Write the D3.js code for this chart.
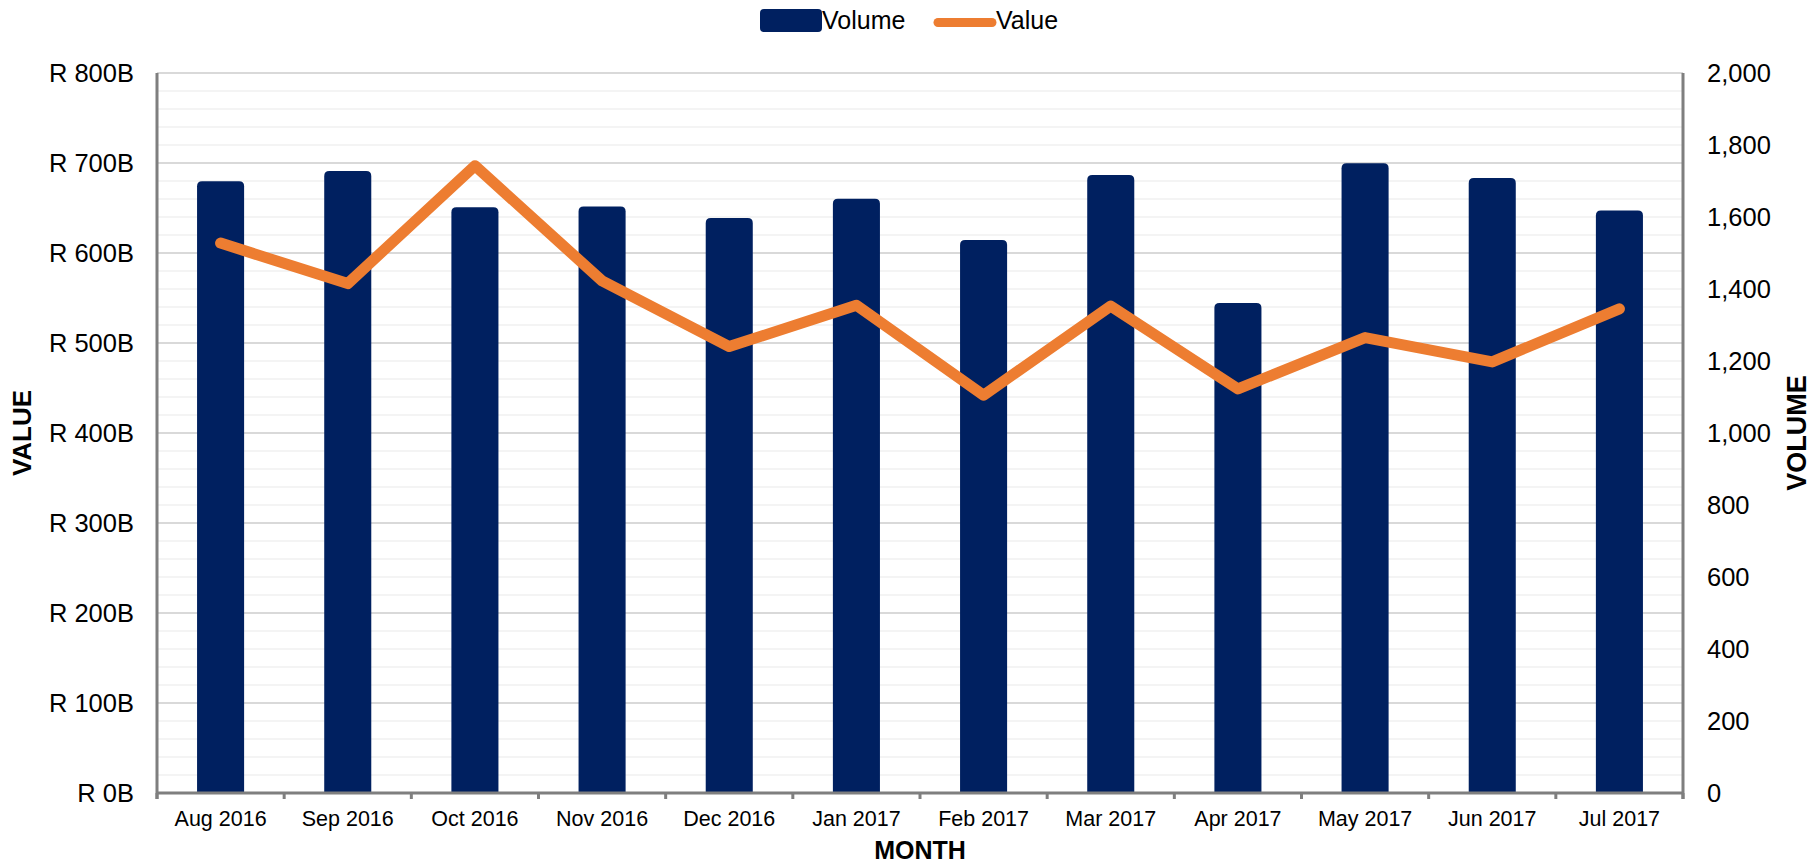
<!DOCTYPE html>
<html>
<head>
<meta charset="utf-8">
<script src="https://cdn.jsdelivr.net/npm/d3@7"></script>
<style>
  body { margin: 0; background: #fff; }
  svg text { font-family: "Liberation Sans", Arial, sans-serif; fill: #000; }
</style>
</head>
<body>
<div class="chart"></div>
<script>
const months = ["Aug 2016", "Sep 2016", "Oct 2016", "Nov 2016", "Dec 2016", "Jan 2017",
  "Feb 2017", "Mar 2017", "Apr 2017", "May 2017", "Jun 2017", "Jul 2017"];
// bars, right axis
const volume = [1699, 1728, 1627, 1629, 1597, 1651, 1536, 1717, 1361, 1749, 1708, 1618];
// line, left axis, billions of rand
const value = [611, 566, 697, 569, 496, 542, 442, 541, 449, 506, 479, 538];
const valueTicks = [0, 100, 200, 300, 400, 500, 600, 700, 800];
const volumeTicks = [0, 200, 400, 600, 800, 1000, 1200, 1400, 1600, 1800, 2000];

const renderChart = (containerId) => {
    const svgWidth = 1813, svgHeight = 866;
    const margin = { top: 73, right: 130, bottom: 73, left: 157 };
    const width = svgWidth - margin.left - margin.right;
    const height = svgHeight - margin.top - margin.bottom;

    const svg = d3.select(`.${containerId}`)
      .append("svg")
      .attr("width", svgWidth)
      .attr("height", svgHeight);
    const g = svg.append("g")
      .attr("transform", `translate(${margin.left},${margin.top})`);

    const x = d3.scaleBand().domain(months).range([0, width]).padding(0);
    const yL = d3.scaleLinear().domain([0, 800]).range([height, 0]);
    const yR = d3.scaleLinear().domain([0, 2000]).range([height, 0]);

    // gridlines: minor every 20B, major every 100B
    g.selectAll(".minor")
      .data(d3.range(0, 801, 20).filter(v => v % 100 !== 0))
      .enter().append("line")
      .attr("x1", 0).attr("x2", width)
      .attr("y1", d => yL(d)).attr("y2", d => yL(d))
      .attr("stroke", "#f0f0f0").attr("stroke-width", 1.5);
    g.selectAll(".major")
      .data(valueTicks.slice(1))
      .enter().append("line")
      .attr("x1", 0).attr("x2", width)
      .attr("y1", d => yL(d)).attr("y2", d => yL(d))
      .attr("stroke", "#d9d9d9").attr("stroke-width", 2);

    // bars with rounded tops
    const bw = x.bandwidth() * 0.37, r = 5;
    g.selectAll(".bar")
      .data(months)
      .enter().append("path")
      .attr("class", "bar")
      .attr("fill", "#002060")
      .attr("d", (m, i) => {
        const x0 = x(m) + (x.bandwidth() - bw) / 2, x1 = x0 + bw;
        const y0 = yR(volume[i]), yb = yR(0);
        return `M${x0},${yb}V${y0 + r}Q${x0},${y0} ${x0 + r},${y0}H${x1 - r}Q${x1},${y0} ${x1},${y0 + r}V${yb}Z`;
      });

    // value line
    const line = d3.line()
      .x((d, i) => x(months[i]) + x.bandwidth() / 2)
      .y(d => yL(d));
    g.append("path")
      .datum(value)
      .attr("d", line)
      .attr("fill", "none")
      .attr("stroke", "#ED7D31")
      .attr("stroke-width", 11)
      .attr("stroke-linejoin", "round")
      .attr("stroke-linecap", "round");

    // axes
    const axisColor = "#7f7f7f";
    const styleAxis = (sel) => {
      sel.select(".domain").remove();
      sel.selectAll(".tick line").remove();
      sel.selectAll("text").attr("fill", "#000");
    };

    g.append("g")
      .call(d3.axisLeft(yL).tickValues(valueTicks).tickFormat(d => `R ${d}B`).tickSize(0).tickPadding(23))
      .call(styleAxis)
      .selectAll("text").style("font-size", "25.5px");

    g.append("g")
      .attr("transform", `translate(${width},0)`)
      .call(d3.axisRight(yR).tickValues(volumeTicks).tickFormat(d3.format(",")).tickSize(0).tickPadding(24))
      .call(styleAxis)
      .selectAll("text").style("font-size", "25.5px");

    g.append("g")
      .attr("transform", `translate(0,${height})`)
      .call(d3.axisBottom(x).tickSize(0).tickPadding(18))
      .call(styleAxis)
      .selectAll("text").style("font-size", "21.5px");

    // axis lines and category ticks
    const boundaries = months.map(m => x(m)).concat([width]);
    g.selectAll(".ctick")
      .data(boundaries)
      .enter().append("line")
      .attr("x1", d => d).attr("x2", d => d)
      .attr("y1", height).attr("y2", height + 6)
      .attr("stroke", axisColor).attr("stroke-width", 3);
    g.append("line")
      .attr("x1", 0).attr("x2", width).attr("y1", height).attr("y2", height)
      .attr("stroke", axisColor).attr("stroke-width", 3);
    g.append("line")
      .attr("x1", 0).attr("x2", 0).attr("y1", 0).attr("y2", height + 6)
      .attr("stroke", axisColor).attr("stroke-width", 3);
    g.append("line")
      .attr("x1", width).attr("x2", width).attr("y1", 0).attr("y2", height + 6)
      .attr("stroke", axisColor).attr("stroke-width", 3);

    // axis titles
    svg.append("text")
      .attr("transform", `translate(31,${margin.top + height / 2}) rotate(-90)`)
      .attr("text-anchor", "middle")
      .style("font-size", "26px").style("font-weight", "bold")
      .text("VALUE");
    svg.append("text")
      .attr("transform", `translate(1806,${margin.top + height / 2}) rotate(-90)`)
      .attr("text-anchor", "middle")
      .style("font-size", "27px").style("font-weight", "bold")
      .text("VOLUME");
    svg.append("text")
      .attr("x", margin.left + width / 2)
      .attr("y", 859)
      .attr("text-anchor", "middle")
      .style("font-size", "25px").style("font-weight", "bold")
      .text("MONTH");

    // legend
    const legend = svg.append("g");
    legend.append("rect")
      .attr("x", 760).attr("y", 9).attr("width", 62).attr("height", 23).attr("rx", 4)
      .attr("fill", "#002060");
    legend.append("text")
      .attr("x", 822).attr("y", 29)
      .style("font-size", "25px")
      .text("Volume");
    legend.append("line")
      .attr("x1", 938).attr("x2", 992).attr("y1", 22.5).attr("y2", 22.5)
      .attr("stroke", "#ED7D31").attr("stroke-width", 9).attr("stroke-linecap", "round");
    legend.append("text")
      .attr("x", 996).attr("y", 29)
      .style("font-size", "25px")
      .text("Value");
}

renderChart("chart");
</script>
</body>
</html>
